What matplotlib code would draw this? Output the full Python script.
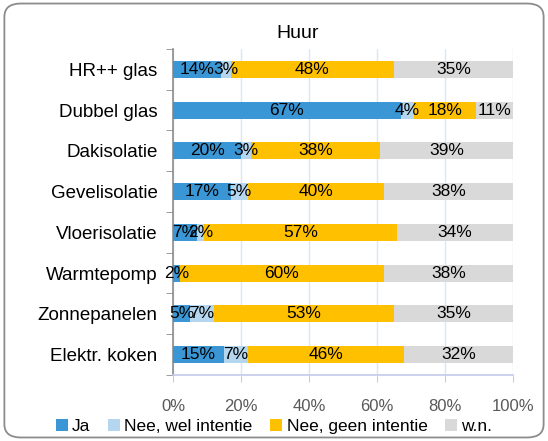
import numpy as np
import matplotlib.pyplot as plt
from matplotlib.patches import FancyBboxPatch

plt.rcParams['font.family'] = ['Liberation Sans', 'DejaVu Sans']

categories = ['HR++ glas', 'Dubbel glas', 'Dakisolatie', 'Gevelisolatie',
              'Vloerisolatie', 'Warmtepomp', 'Zonnepanelen', 'Elektr. koken']
ja = [14, 67, 20, 17, 7, 2, 5, 15]
wel_intentie = [3, 4, 3, 5, 2, 0, 7, 7]
geen_intentie = [48, 18, 38, 40, 57, 60, 53, 46]
wn = [35, 11, 39, 38, 34, 38, 35, 32]
series_names = ['Ja', 'Nee, wel intentie', 'Nee, geen intentie', 'w.n.']
colors = ['#3A96D4', '#B4D6EE', '#FFC000', '#D9D9D9']

fig = plt.figure(figsize=(5.48, 4.41), dpi=100)
ax = fig.add_axes([0.3157, 0.1497, 0.6204, 0.7393])

# rounded chart border
fig.patches.append(FancyBboxPatch((0.008, 0.008), 0.984, 0.984,
                                  boxstyle='round,pad=0,rounding_size=0.03',
                                  transform=fig.transFigure, fill=False,
                                  edgecolor='#8C8C8C', linewidth=1.3))

y = np.arange(len(categories))
left = np.zeros(len(categories))
for name, vals, c in zip(series_names, [ja, wel_intentie, geen_intentie, wn], colors):
    vals = np.array(vals, dtype=float)
    bars = ax.barh(y, vals, left=left, height=0.42, color=c, label=name, zorder=3)
    for b, v in zip(bars, vals):
        if v > 0:
            ax.text(b.get_x() + b.get_width() / 2, b.get_y() + b.get_height() / 2,
                    f'{int(v)}%', ha='center', va='center', fontsize=12.5,
                    color='black', zorder=4)
    left += vals

ax.set_xlim(0, 100)
ax.set_ylim(len(categories) - 0.5, -0.5)
ax.set_xticks(np.arange(0, 101, 20))
ax.set_xticklabels([f'{t}%' for t in range(0, 101, 20)], fontsize=12, color='#595959')
ax.set_yticks(y)
ax.set_yticklabels(categories, fontsize=13.5)
ax.set_yticks(np.arange(-0.5, len(categories), 1), minor=True)
ax.tick_params(axis='y', which='major', length=0, pad=11)
ax.tick_params(axis='y', which='minor', length=5, color='#8C8C8C', direction='out')
ax.tick_params(axis='x', length=5, color='#C5CBEA', direction='out', pad=12)
ax.grid(axis='x', color='#DAE8F5', linewidth=1, zorder=0)

for s in ['top', 'right']:
    ax.spines[s].set_visible(False)
ax.spines['left'].set_color('#8C8C8C')
ax.spines['left'].set_linewidth(1.2)
ax.spines['bottom'].set_color('#C5CBEA')
ax.spines['bottom'].set_linewidth(1.2)

fig.text(0.544, 0.925, 'Huur', ha='center', va='center', fontsize=14)

fig.legend(loc='lower center', bbox_to_anchor=(0.5, -0.02), ncol=4, frameon=False,
           fontsize=12.5, handlelength=0.7, handleheight=0.7, handletextpad=0.25,
           columnspacing=1.0)

fig.savefig('out.png', dpi=100)
